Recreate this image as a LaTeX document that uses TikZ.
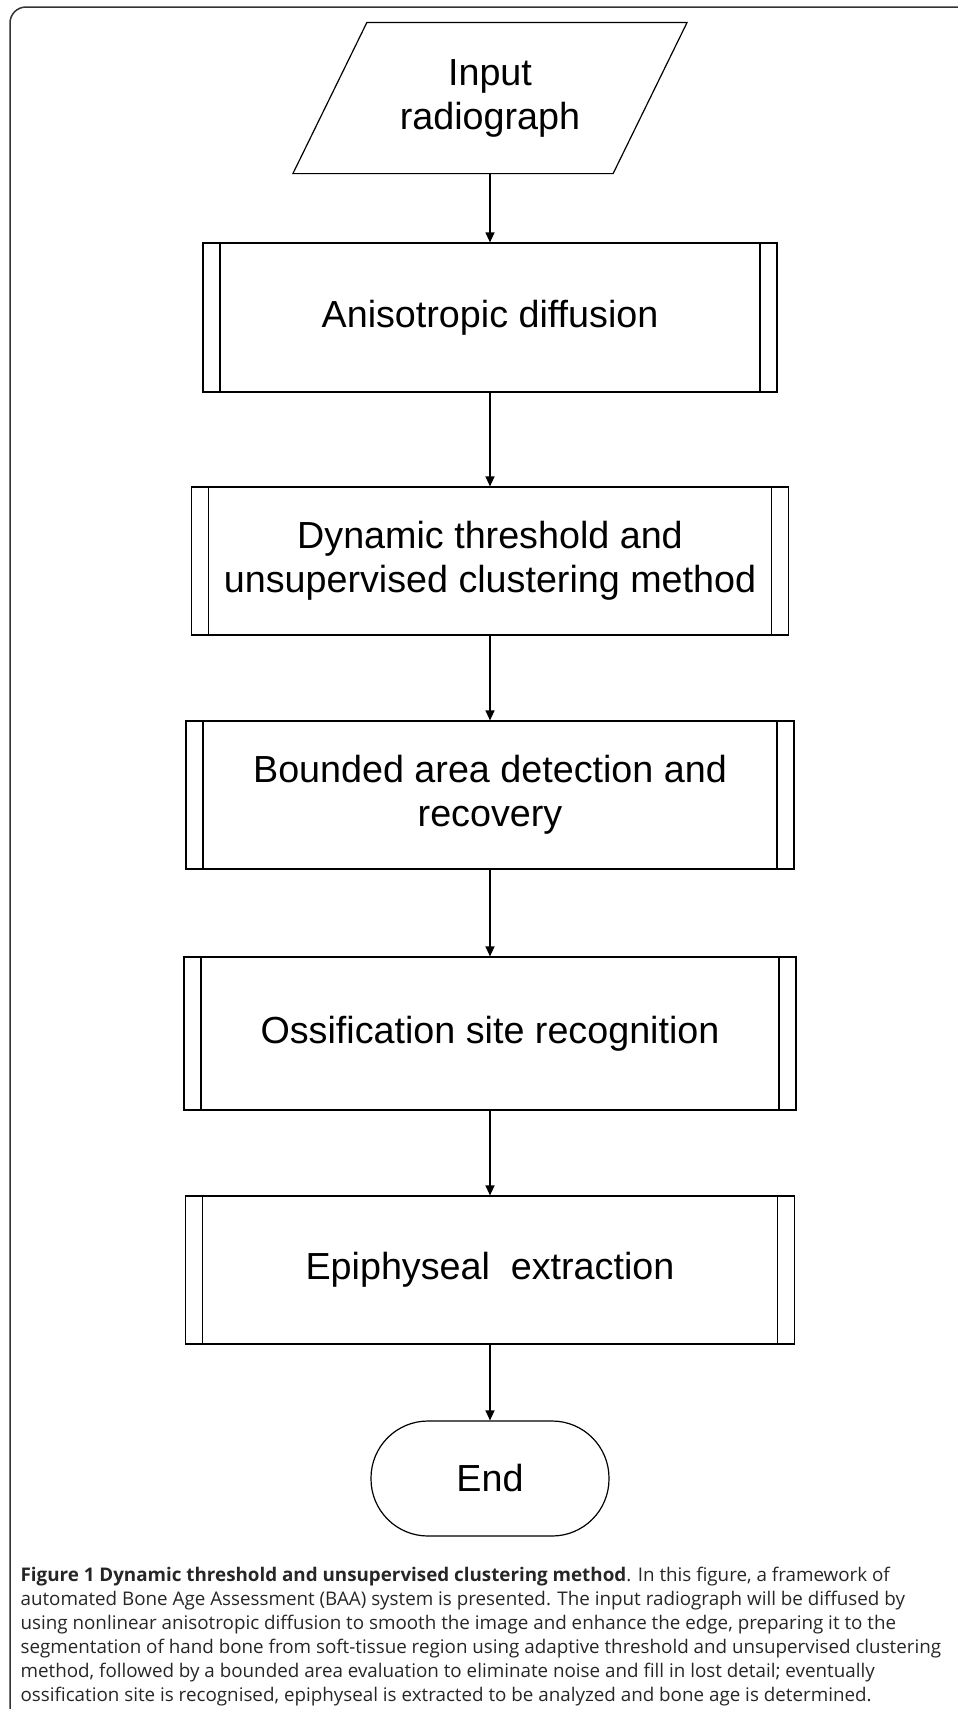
\documentclass[tikz,border=0pt]{standalone}
\usepackage{fontspec}
\setmainfont{Liberation Sans}
\newfontfamily\capfont{Open Sans}
\usetikzlibrary{arrows.meta}

\begin{document}
\begin{tikzpicture}[x=1pt,y=-1pt,line width=1.2pt,
  flow/.style={font=\fontsize{37.7}{44}\selectfont,align=center,inner sep=0pt},
  proc/.style={flow,draw,minimum width=#1,minimum height=148pt,
    path picture={
      \draw ([xshift=17pt]path picture bounding box.north west) -- ([xshift=17pt]path picture bounding box.south west);
      \draw ([xshift=-17pt]path picture bounding box.north east) -- ([xshift=-17pt]path picture bounding box.south east);}},
  arr/.style={-{Triangle[length=10pt,width=9pt]}}]
\useasboundingbox (0,0) rectangle (958,1709);
\draw [line width=1.5pt,black!80,rounded corners=16pt] (10,1709) -- (10,7) -- (958,7);
\node (input) [flow,minimum width=319pt,minimum height=150pt] at (490,98) {Input\\radiograph};
\draw ([xshift=37pt]input.north west) -- ([xshift=37pt]input.north east) -- ([xshift=-37pt]input.south east) -- ([xshift=-37pt]input.south west) -- cycle;
\node (diff) [proc=574pt,minimum height=149pt] at (490,317.5) {Anisotropic diffusion};
\node (thresh) [proc=597pt] at (490,561) {Dynamic threshold and\\unsupervised clustering method};
\node (bound) [proc=608pt] at (490,795) {Bounded area detection and\\recovery};
\node (ossif) [proc=612pt,minimum height=153pt] at (490,1033.5) {Ossification site recognition};
\node (epiph) [proc=609pt] at (490,1270) {Epiphyseal\ \ extraction};
\node (end) [flow,draw,rounded corners=57pt,minimum width=238pt,minimum height=115pt] at (490,1478.5) {End};
\draw [arr] (input) -- (diff);
\draw [arr] (diff) -- (thresh);
\draw [arr] (thresh) -- (bound);
\draw [arr] (bound) -- (ossif);
\draw [arr] (ossif) -- (epiph);
\draw [arr] (epiph) -- (end);
\node (cap) [anchor=north west,inner sep=0pt,align=left,text=black!85,font=\capfont\fontsize{18.8}{24}\selectfont] at (20,1566) {\textbf{Figure 1 Dynamic threshold and unsupervised clustering method}. In this figure, a framework of\\
automated Bone Age Assessment (BAA) system is presented. The input radiograph will be diffused by\\
using nonlinear anisotropic diffusion to smooth the image and enhance the edge, preparing it to the\\
segmentation of hand bone from soft-tissue region using adaptive threshold and unsupervised clustering\\
method, followed by a bounded area evaluation to eliminate noise and fill in lost detail; eventually\\
ossification site is recognised, epiphyseal is extracted to be analyzed and bone age is determined.};
\end{tikzpicture}
\end{document}
